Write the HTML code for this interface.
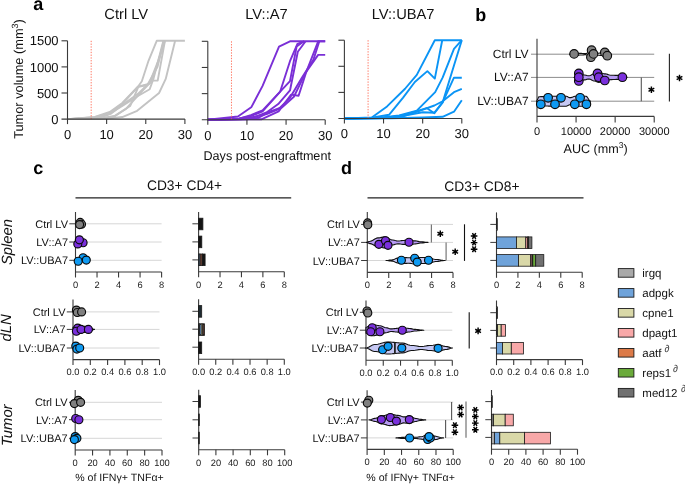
<!DOCTYPE html>
<html><head><meta charset="utf-8"><style>
html,body{margin:0;padding:0;background:#fff;width:685px;height:484px;overflow:hidden}
svg{display:block;will-change:transform}
text{font-family:"Liberation Sans", sans-serif;text-rendering:geometricPrecision}
</style></head><body>
<svg width="685" height="484" viewBox="0 0 685 484">
<rect width="685" height="484" fill="#fff"/>
<text x="33.20" y="9.80" font-size="18" text-anchor="start" font-weight="bold" font-style="normal" fill="#000" >a</text>
<polyline points="67.50,119.10 94.89,117.01 109.76,111.90 122.29,102.92 137.94,86.74 141.85,81.25 148.51,60.79 156.72,40.80 184.90,40.80" fill="none" stroke="#c3c3c3" stroke-width="1.9" stroke-linejoin="round"/>
<polyline points="67.50,119.10 94.89,117.27 110.55,112.84 122.29,103.96 137.94,86.74 149.68,83.55 153.20,75.57 157.70,64.19 164.16,40.80" fill="none" stroke="#c3c3c3" stroke-width="1.9" stroke-linejoin="round"/>
<polyline points="67.50,119.10 98.81,117.53 110.55,113.88 122.29,105.11 137.94,93.84 149.68,82.56 157.90,61.68 164.94,40.80" fill="none" stroke="#c3c3c3" stroke-width="1.9" stroke-linejoin="round"/>
<polyline points="67.50,119.10 98.81,117.79 106.63,115.39 122.29,106.05 137.94,96.03 149.68,89.24 153.59,78.38 163.38,40.80" fill="none" stroke="#c3c3c3" stroke-width="1.9" stroke-linejoin="round"/>
<polyline points="67.50,119.10 102.72,118.06 114.46,115.97 126.20,108.66 137.94,95.56 152.03,80.63 157.70,80.63 164.94,40.80" fill="none" stroke="#c3c3c3" stroke-width="1.9" stroke-linejoin="round"/>
<polyline points="67.50,119.10 102.72,118.32 114.46,116.49 130.11,106.05 138.33,86.94 147.33,84.96 157.51,66.90 163.77,40.80" fill="none" stroke="#c3c3c3" stroke-width="1.9" stroke-linejoin="round"/>
<polyline points="67.50,119.10 106.63,118.58 122.29,117.01 137.16,110.80 159.07,93.00 165.72,78.96 175.12,40.80" fill="none" stroke="#c3c3c3" stroke-width="1.9" stroke-linejoin="round"/>
<line x1="91.18" y1="40.80" x2="91.18" y2="119.10" stroke="#ff6850" stroke-width="0.9" stroke-dasharray="1.35,1.4"/>
<line x1="67.50" y1="40.80" x2="67.50" y2="124.10" stroke="#3a3a3a" stroke-width="1.1" />
<line x1="61.50" y1="119.10" x2="184.90" y2="119.10" stroke="#3a3a3a" stroke-width="1.1" />
<line x1="61.50" y1="93.00" x2="67.50" y2="93.00" stroke="#3a3a3a" stroke-width="1.1" />
<line x1="61.50" y1="66.90" x2="67.50" y2="66.90" stroke="#3a3a3a" stroke-width="1.1" />
<line x1="61.50" y1="40.80" x2="67.50" y2="40.80" stroke="#3a3a3a" stroke-width="1.1" />
<line x1="106.63" y1="119.10" x2="106.63" y2="124.10" stroke="#3a3a3a" stroke-width="1.1" />
<line x1="145.77" y1="119.10" x2="145.77" y2="124.10" stroke="#3a3a3a" stroke-width="1.1" />
<line x1="184.90" y1="119.10" x2="184.90" y2="124.10" stroke="#3a3a3a" stroke-width="1.1" />
<text x="67.50" y="139.00" font-size="13" text-anchor="middle" font-weight="normal" font-style="normal" fill="#111" >0</text>
<text x="106.63" y="139.00" font-size="13" text-anchor="middle" font-weight="normal" font-style="normal" fill="#111" >10</text>
<text x="145.77" y="139.00" font-size="13" text-anchor="middle" font-weight="normal" font-style="normal" fill="#111" >20</text>
<text x="184.90" y="139.00" font-size="13" text-anchor="middle" font-weight="normal" font-style="normal" fill="#111" >30</text>
<text x="58.60" y="123.70" font-size="13" text-anchor="end" font-weight="normal" font-style="normal" fill="#111" >0</text>
<text x="58.60" y="97.60" font-size="13" text-anchor="end" font-weight="normal" font-style="normal" fill="#111" >500</text>
<text x="58.60" y="71.50" font-size="13" text-anchor="end" font-weight="normal" font-style="normal" fill="#111" >1000</text>
<text x="58.60" y="45.40" font-size="13" text-anchor="end" font-weight="normal" font-style="normal" fill="#111" >1500</text>
<text x="126.20" y="18.90" font-size="14.7" text-anchor="middle" font-weight="normal" font-style="normal" fill="#111" >Ctrl LV</text>
<polyline points="207.80,119.80 237.93,116.50 251.24,107.34 262.59,85.89 279.02,46.53 289.98,41.30 325.20,41.30" fill="none" stroke="#7a2fd6" stroke-width="1.9" stroke-linejoin="round"/>
<polyline points="207.80,119.80 239.11,118.75 250.85,115.09 262.59,110.38 280.20,91.54 289.98,81.07 296.63,46.53 304.07,41.30" fill="none" stroke="#7a2fd6" stroke-width="1.9" stroke-linejoin="round"/>
<polyline points="207.80,119.80 239.11,118.49 250.85,116.14 262.59,111.43 280.20,91.54 289.98,61.19 297.42,43.92 304.07,41.30" fill="none" stroke="#7a2fd6" stroke-width="1.9" stroke-linejoin="round"/>
<polyline points="207.80,119.80 243.02,119.02 254.76,117.18 266.50,112.47 278.24,104.10 289.98,90.49 297.81,51.77 305.63,41.30" fill="none" stroke="#7a2fd6" stroke-width="1.9" stroke-linejoin="round"/>
<polyline points="207.80,119.80 246.93,119.28 261.41,119.28 278.63,111.43 291.15,94.68 298.59,95.73 306.02,72.70 318.16,41.30 325.20,41.30" fill="none" stroke="#7a2fd6" stroke-width="1.9" stroke-linejoin="round"/>
<polyline points="207.80,119.80 246.93,119.38 258.67,117.71 270.41,111.43 282.15,107.24 293.89,96.77 305.63,72.70 318.16,54.91 325.20,54.91" fill="none" stroke="#7a2fd6" stroke-width="1.9" stroke-linejoin="round"/>
<polyline points="207.80,119.80 243.02,119.17 254.76,116.66 266.50,114.04 278.24,109.33 289.98,97.82 301.72,77.93 313.46,59.62 319.33,41.30" fill="none" stroke="#7a2fd6" stroke-width="1.9" stroke-linejoin="round"/>
<line x1="231.48" y1="41.30" x2="231.48" y2="119.80" stroke="#ff6850" stroke-width="0.9" stroke-dasharray="1.35,1.4"/>
<line x1="207.80" y1="41.30" x2="207.80" y2="124.80" stroke="#3a3a3a" stroke-width="1.1" />
<line x1="201.80" y1="119.80" x2="325.20" y2="119.80" stroke="#3a3a3a" stroke-width="1.1" />
<line x1="201.80" y1="93.63" x2="207.80" y2="93.63" stroke="#3a3a3a" stroke-width="1.1" />
<line x1="201.80" y1="67.47" x2="207.80" y2="67.47" stroke="#3a3a3a" stroke-width="1.1" />
<line x1="201.80" y1="41.30" x2="207.80" y2="41.30" stroke="#3a3a3a" stroke-width="1.1" />
<line x1="246.93" y1="119.80" x2="246.93" y2="124.80" stroke="#3a3a3a" stroke-width="1.1" />
<line x1="286.07" y1="119.80" x2="286.07" y2="124.80" stroke="#3a3a3a" stroke-width="1.1" />
<line x1="325.20" y1="119.80" x2="325.20" y2="124.80" stroke="#3a3a3a" stroke-width="1.1" />
<text x="207.80" y="139.70" font-size="13" text-anchor="middle" font-weight="normal" font-style="normal" fill="#111" >0</text>
<text x="246.93" y="139.70" font-size="13" text-anchor="middle" font-weight="normal" font-style="normal" fill="#111" >10</text>
<text x="286.07" y="139.70" font-size="13" text-anchor="middle" font-weight="normal" font-style="normal" fill="#111" >20</text>
<text x="325.20" y="139.70" font-size="13" text-anchor="middle" font-weight="normal" font-style="normal" fill="#111" >30</text>
<text x="266.50" y="18.90" font-size="14.7" text-anchor="middle" font-weight="normal" font-style="normal" fill="#111" >LV::A7</text>
<polyline points="344.40,118.50 371.79,117.46 387.06,106.44 405.06,88.75 416.80,74.86 434.80,40.20 461.80,40.20" fill="none" stroke="#0a94f5" stroke-width="1.9" stroke-linejoin="round"/>
<polyline points="344.40,118.50 371.79,117.72 389.01,114.79 403.10,97.62 414.84,81.96 427.36,71.15 434.80,78.57 442.23,40.20" fill="none" stroke="#0a94f5" stroke-width="1.9" stroke-linejoin="round"/>
<polyline points="344.40,118.50 379.62,117.72 399.19,115.37 416.80,110.62 435.19,92.14 442.62,77.68 453.97,48.81 461.80,40.20" fill="none" stroke="#0a94f5" stroke-width="1.9" stroke-linejoin="round"/>
<polyline points="344.40,118.50 383.53,117.98 403.10,115.89 422.67,112.24 434.41,112.71 442.62,102.42 453.97,77.68 461.80,77.68" fill="none" stroke="#0a94f5" stroke-width="1.9" stroke-linejoin="round"/>
<polyline points="344.40,118.50 383.53,117.98 403.10,116.41 418.75,111.19 434.41,105.50 442.62,101.27 453.97,92.14 461.80,88.95" fill="none" stroke="#0a94f5" stroke-width="1.9" stroke-linejoin="round"/>
<polyline points="344.40,118.50 391.36,118.24 422.67,117.46 442.62,116.78 453.97,111.71 461.80,100.33" fill="none" stroke="#0a94f5" stroke-width="1.9" stroke-linejoin="round"/>
<polyline points="344.40,118.50 383.53,117.98 403.10,115.37 426.58,108.06 434.41,113.28 442.62,102.42 453.97,65.57 461.80,40.20" fill="none" stroke="#0a94f5" stroke-width="1.9" stroke-linejoin="round"/>
<line x1="368.08" y1="40.20" x2="368.08" y2="118.50" stroke="#ff6850" stroke-width="0.9" stroke-dasharray="1.35,1.4"/>
<line x1="344.40" y1="40.20" x2="344.40" y2="123.50" stroke="#3a3a3a" stroke-width="1.1" />
<line x1="338.40" y1="118.50" x2="461.80" y2="118.50" stroke="#3a3a3a" stroke-width="1.1" />
<line x1="338.40" y1="92.40" x2="344.40" y2="92.40" stroke="#3a3a3a" stroke-width="1.1" />
<line x1="338.40" y1="66.30" x2="344.40" y2="66.30" stroke="#3a3a3a" stroke-width="1.1" />
<line x1="338.40" y1="40.20" x2="344.40" y2="40.20" stroke="#3a3a3a" stroke-width="1.1" />
<line x1="383.53" y1="118.50" x2="383.53" y2="123.50" stroke="#3a3a3a" stroke-width="1.1" />
<line x1="422.67" y1="118.50" x2="422.67" y2="123.50" stroke="#3a3a3a" stroke-width="1.1" />
<line x1="461.80" y1="118.50" x2="461.80" y2="123.50" stroke="#3a3a3a" stroke-width="1.1" />
<text x="344.40" y="138.40" font-size="13" text-anchor="middle" font-weight="normal" font-style="normal" fill="#111" >0</text>
<text x="383.53" y="138.40" font-size="13" text-anchor="middle" font-weight="normal" font-style="normal" fill="#111" >10</text>
<text x="422.67" y="138.40" font-size="13" text-anchor="middle" font-weight="normal" font-style="normal" fill="#111" >20</text>
<text x="461.80" y="138.40" font-size="13" text-anchor="middle" font-weight="normal" font-style="normal" fill="#111" >30</text>
<text x="403.10" y="18.90" font-size="14.7" text-anchor="middle" font-weight="normal" font-style="normal" fill="#111" >LV::UBA7</text>
<text x="267.20" y="159.60" font-size="12.6" text-anchor="middle" font-weight="normal" font-style="normal" fill="#111" >Days post-engraftment</text>
<text x="22.60" y="79.00" font-size="12.8" text-anchor="middle" font-weight="normal" font-style="normal" fill="#111" transform="rotate(-90 22.60 79.00)" >Tumor volume (mm<tspan dy="-5" font-size="9">3</tspan><tspan dy="5">)</tspan></text>
<text x="475.30" y="20.60" font-size="18" text-anchor="start" font-weight="bold" font-style="normal" fill="#000" >b</text>
<line x1="531.00" y1="54.20" x2="654.21" y2="54.20" stroke="#8c8c8c" stroke-width="1" />
<line x1="531.00" y1="77.40" x2="654.21" y2="77.40" stroke="#8c8c8c" stroke-width="1" />
<line x1="531.00" y1="101.20" x2="654.21" y2="101.20" stroke="#8c8c8c" stroke-width="1" />
<line x1="537.00" y1="38.80" x2="537.00" y2="122.40" stroke="#3a3a3a" stroke-width="1.1" />
<line x1="537.00" y1="116.40" x2="654.21" y2="116.40" stroke="#3a3a3a" stroke-width="1.1" />
<line x1="576.07" y1="116.40" x2="576.07" y2="122.40" stroke="#3a3a3a" stroke-width="1.1" />
<line x1="615.14" y1="116.40" x2="615.14" y2="122.40" stroke="#3a3a3a" stroke-width="1.1" />
<line x1="654.21" y1="116.40" x2="654.21" y2="122.40" stroke="#3a3a3a" stroke-width="1.1" />
<text x="537.00" y="134.80" font-size="11" text-anchor="middle" font-weight="normal" font-style="normal" fill="#111" >0</text>
<text x="576.07" y="134.80" font-size="11" text-anchor="middle" font-weight="normal" font-style="normal" fill="#111" >10000</text>
<text x="615.14" y="134.80" font-size="11" text-anchor="middle" font-weight="normal" font-style="normal" fill="#111" >20000</text>
<text x="654.21" y="134.80" font-size="11" text-anchor="middle" font-weight="normal" font-style="normal" fill="#111" >30000</text>
<text x="528.60" y="58.20" font-size="12" text-anchor="end" font-weight="normal" font-style="normal" fill="#111" >Ctrl LV</text>
<text x="528.60" y="81.40" font-size="12" text-anchor="end" font-weight="normal" font-style="normal" fill="#111" >LV::A7</text>
<text x="528.60" y="105.20" font-size="12" text-anchor="end" font-weight="normal" font-style="normal" fill="#111" >LV::UBA7</text>
<text x="595.60" y="153.00" font-size="12.6" text-anchor="middle" font-weight="normal" font-style="normal" fill="#111" >AUC (mm<tspan dy="-5" font-size="8.5">3</tspan><tspan dy="5">)</tspan></text>
<line x1="641.30" y1="77.40" x2="641.30" y2="101.20" stroke="#555" stroke-width="1.1" />
<line x1="669.40" y1="53.70" x2="669.40" y2="101.40" stroke="#222" stroke-width="1.1" />
<path d="M569.50,54.20 L570.35,53.99 L571.19,53.42 L572.04,52.70 L572.89,52.06 L573.73,51.72 L574.58,51.74 L575.43,51.93 L576.28,52.24 L577.12,52.60 L577.97,52.96 L578.82,53.24 L579.66,53.39 L580.51,53.40 L581.36,53.42 L582.20,53.46 L583.05,53.50 L583.90,53.55 L584.74,53.58 L585.59,53.60 L586.44,53.54 L587.29,53.07 L588.13,52.29 L588.98,51.40 L589.83,50.64 L590.67,50.24 L591.52,50.24 L592.37,50.47 L593.21,50.88 L594.06,51.41 L594.91,51.97 L595.76,52.50 L596.60,52.91 L597.45,53.15 L598.30,53.20 L599.14,53.14 L599.99,53.05 L600.84,53.00 L601.68,52.92 L602.53,52.61 L603.38,52.17 L604.22,51.70 L605.07,51.35 L605.92,51.20 L606.77,51.37 L607.61,51.91 L608.46,52.66 L609.31,53.43 L610.15,53.99 L611.00,54.20 L611.00,54.20 L610.15,54.41 L609.31,54.97 L608.46,55.74 L607.61,56.49 L606.77,57.03 L605.92,57.20 L605.07,57.05 L604.22,56.70 L603.38,56.23 L602.53,55.79 L601.68,55.48 L600.84,55.40 L599.99,55.35 L599.14,55.26 L598.30,55.20 L597.45,55.25 L596.60,55.49 L595.76,55.90 L594.91,56.43 L594.06,56.99 L593.21,57.52 L592.37,57.93 L591.52,58.16 L590.67,58.16 L589.83,57.76 L588.98,57.00 L588.13,56.11 L587.29,55.33 L586.44,54.86 L585.59,54.80 L584.74,54.82 L583.90,54.85 L583.05,54.90 L582.20,54.94 L581.36,54.98 L580.51,55.00 L579.66,55.01 L578.82,55.16 L577.97,55.44 L577.12,55.80 L576.28,56.16 L575.43,56.47 L574.58,56.66 L573.73,56.68 L572.89,56.34 L572.04,55.70 L571.19,54.98 L570.35,54.41 L569.50,54.20 Z" fill="#ffffff" stroke="#111" stroke-width="1.1" stroke-linejoin="round"/>
<circle cx="574.10" cy="53.90" r="4.3" fill="#808080" stroke="#0a0a0a" stroke-width="1.15"/>
<circle cx="591.60" cy="50.20" r="4.3" fill="#808080" stroke="#0a0a0a" stroke-width="1.15"/>
<circle cx="590.90" cy="57.20" r="4.3" fill="#808080" stroke="#0a0a0a" stroke-width="1.15"/>
<circle cx="593.50" cy="53.90" r="4.3" fill="#808080" stroke="#0a0a0a" stroke-width="1.15"/>
<circle cx="604.80" cy="52.40" r="4.3" fill="#808080" stroke="#0a0a0a" stroke-width="1.15"/>
<circle cx="607.30" cy="55.70" r="4.3" fill="#808080" stroke="#0a0a0a" stroke-width="1.15"/>
<path d="M574.00,77.40 L575.08,76.74 L576.16,75.07 L577.24,73.21 L578.33,72.03 L579.41,72.00 L580.49,72.62 L581.57,73.56 L582.65,74.43 L583.73,74.88 L584.82,74.96 L585.90,75.18 L586.98,75.48 L588.06,75.72 L589.14,75.80 L590.22,75.53 L591.31,74.97 L592.39,74.35 L593.47,73.95 L594.55,73.86 L595.63,73.54 L596.71,73.05 L597.80,72.60 L598.88,72.40 L599.96,72.49 L601.04,72.79 L602.12,73.20 L603.20,73.59 L604.29,73.85 L605.37,73.91 L606.45,74.08 L607.53,74.39 L608.61,74.75 L609.69,75.05 L610.78,75.20 L611.86,75.21 L612.94,75.25 L614.02,75.30 L615.10,75.35 L616.18,75.39 L617.27,75.40 L618.35,75.37 L619.43,75.30 L620.51,75.24 L621.59,75.20 L622.67,75.30 L623.76,75.80 L624.84,76.53 L625.92,77.16 L627.00,77.40 L627.00,77.40 L625.92,77.64 L624.84,78.27 L623.76,79.00 L622.67,79.50 L621.59,79.60 L620.51,79.56 L619.43,79.50 L618.35,79.43 L617.27,79.40 L616.18,79.41 L615.10,79.45 L614.02,79.50 L612.94,79.55 L611.86,79.59 L610.78,79.60 L609.69,79.75 L608.61,80.05 L607.53,80.41 L606.45,80.72 L605.37,80.89 L604.29,80.95 L603.20,81.21 L602.12,81.60 L601.04,82.01 L599.96,82.31 L598.88,82.40 L597.80,82.20 L596.71,81.75 L595.63,81.26 L594.55,80.94 L593.47,80.85 L592.39,80.45 L591.31,79.83 L590.22,79.27 L589.14,79.00 L588.06,79.08 L586.98,79.32 L585.90,79.62 L584.82,79.84 L583.73,79.92 L582.65,80.37 L581.57,81.24 L580.49,82.18 L579.41,82.80 L578.33,82.77 L577.24,81.59 L576.16,79.73 L575.08,78.06 L574.00,77.40 Z" fill="#b89cf4" stroke="#111" stroke-width="1.1" stroke-linejoin="round"/>
<circle cx="578.80" cy="73.40" r="4.3" fill="#7a30dc" stroke="#0a0a0a" stroke-width="1.15"/>
<circle cx="578.80" cy="81.00" r="4.3" fill="#7a30dc" stroke="#0a0a0a" stroke-width="1.15"/>
<circle cx="578.80" cy="77.20" r="4.3" fill="#7a30dc" stroke="#0a0a0a" stroke-width="1.15"/>
<circle cx="597.50" cy="73.40" r="4.3" fill="#7a30dc" stroke="#0a0a0a" stroke-width="1.15"/>
<circle cx="598.70" cy="77.20" r="4.3" fill="#7a30dc" stroke="#0a0a0a" stroke-width="1.15"/>
<circle cx="604.80" cy="80.50" r="4.3" fill="#7a30dc" stroke="#0a0a0a" stroke-width="1.15"/>
<circle cx="622.40" cy="77.20" r="4.3" fill="#7a30dc" stroke="#0a0a0a" stroke-width="1.15"/>
<path d="M536.50,101.20 L537.60,99.37 L538.70,96.85 L539.81,96.70 L540.91,96.67 L542.01,96.64 L543.11,96.59 L544.21,96.53 L545.32,96.46 L546.42,96.39 L547.52,96.33 L548.62,96.28 L549.72,96.24 L550.83,96.21 L551.93,96.20 L553.03,96.20 L554.13,96.20 L555.23,96.20 L556.34,96.20 L557.44,96.20 L558.54,96.20 L559.64,96.20 L560.74,96.20 L561.85,96.20 L562.95,96.20 L564.05,96.20 L565.15,96.20 L566.26,96.22 L567.36,96.59 L568.46,97.21 L569.56,97.66 L570.66,97.66 L571.77,97.40 L572.87,97.00 L573.97,96.59 L575.07,96.29 L576.17,96.20 L577.28,96.20 L578.38,96.20 L579.48,96.20 L580.58,96.20 L581.68,96.20 L582.79,96.20 L583.89,96.20 L584.99,96.20 L586.09,96.21 L587.19,97.02 L588.30,98.78 L589.40,100.50 L590.50,101.20 L590.50,101.20 L589.40,101.90 L588.30,103.62 L587.19,105.38 L586.09,106.19 L584.99,106.20 L583.89,106.20 L582.79,106.20 L581.68,106.20 L580.58,106.20 L579.48,106.20 L578.38,106.20 L577.28,106.20 L576.17,106.20 L575.07,106.11 L573.97,105.81 L572.87,105.40 L571.77,105.00 L570.66,104.74 L569.56,104.74 L568.46,105.19 L567.36,105.81 L566.26,106.18 L565.15,106.20 L564.05,106.20 L562.95,106.20 L561.85,106.20 L560.74,106.20 L559.64,106.20 L558.54,106.20 L557.44,106.20 L556.34,106.20 L555.23,106.20 L554.13,106.20 L553.03,106.20 L551.93,106.20 L550.83,106.19 L549.72,106.16 L548.62,106.12 L547.52,106.07 L546.42,106.01 L545.32,105.94 L544.21,105.87 L543.11,105.81 L542.01,105.76 L540.91,105.73 L539.81,105.70 L538.70,105.55 L537.60,103.03 L536.50,101.20 Z" fill="#c6c8f4" stroke="#111" stroke-width="1.1" stroke-linejoin="round"/>
<circle cx="548.10" cy="97.80" r="4.3" fill="#0f9af2" stroke="#0a0a0a" stroke-width="1.15"/>
<circle cx="561.00" cy="97.80" r="4.3" fill="#0f9af2" stroke="#0a0a0a" stroke-width="1.15"/>
<circle cx="580.10" cy="97.80" r="4.3" fill="#0f9af2" stroke="#0a0a0a" stroke-width="1.15"/>
<circle cx="540.80" cy="104.30" r="4.3" fill="#0f9af2" stroke="#0a0a0a" stroke-width="1.15"/>
<circle cx="555.00" cy="104.30" r="4.3" fill="#0f9af2" stroke="#0a0a0a" stroke-width="1.15"/>
<circle cx="574.80" cy="104.30" r="4.3" fill="#0f9af2" stroke="#0a0a0a" stroke-width="1.15"/>
<circle cx="586.40" cy="104.30" r="4.3" fill="#0f9af2" stroke="#0a0a0a" stroke-width="1.15"/>
<path d="M651.40,86.40 L651.40,93.00 M648.54,88.05 L654.26,91.35 M654.26,88.05 L648.54,91.35 " stroke="#000" stroke-width="1.45" fill="none"/>
<path d="M679.50,74.70 L679.50,81.30 M676.64,76.35 L682.36,79.65 M682.36,76.35 L676.64,79.65 " stroke="#000" stroke-width="1.45" fill="none"/>
<text x="33.20" y="174.40" font-size="18" text-anchor="start" font-weight="bold" font-style="normal" fill="#000" >c</text>
<text x="341.00" y="174.40" font-size="18" text-anchor="start" font-weight="bold" font-style="normal" fill="#000" >d</text>
<line x1="75.50" y1="197.90" x2="291.20" y2="197.90" stroke="#222" stroke-width="1.2" />
<text x="184.50" y="189.80" font-size="13.8" text-anchor="middle" font-weight="normal" font-style="normal" fill="#111" >CD3+ CD4+</text>
<line x1="367.50" y1="197.90" x2="583.50" y2="197.90" stroke="#222" stroke-width="1.2" />
<text x="481.90" y="191.20" font-size="13.8" text-anchor="middle" font-weight="normal" font-style="normal" fill="#111" >CD3+ CD8+</text>
<text x="11.60" y="242.00" font-size="14.8" text-anchor="middle" font-weight="normal" font-style="italic" fill="#111" transform="rotate(-90 11.60 242.00)" >Spleen</text>
<text x="11.00" y="328.00" font-size="14.8" text-anchor="middle" font-weight="normal" font-style="italic" fill="#111" transform="rotate(-90 11.00 328.00)" >dLN</text>
<text x="11.60" y="425.30" font-size="14.8" text-anchor="middle" font-weight="normal" font-style="italic" fill="#111" transform="rotate(-90 11.60 425.30)" >Tumor</text>
<line x1="75.50" y1="223.80" x2="161.60" y2="223.80" stroke="#d6d6d6" stroke-width="1" />
<line x1="75.50" y1="242.00" x2="161.60" y2="242.00" stroke="#d6d6d6" stroke-width="1" />
<line x1="75.50" y1="260.30" x2="161.60" y2="260.30" stroke="#d6d6d6" stroke-width="1" />
<line x1="69.30" y1="223.80" x2="75.50" y2="223.80" stroke="#3a3a3a" stroke-width="1" />
<line x1="69.30" y1="242.00" x2="75.50" y2="242.00" stroke="#3a3a3a" stroke-width="1" />
<line x1="69.30" y1="260.30" x2="75.50" y2="260.30" stroke="#3a3a3a" stroke-width="1" />
<line x1="75.50" y1="212.00" x2="75.50" y2="277.50" stroke="#3a3a3a" stroke-width="1.1" />
<line x1="75.50" y1="272.00" x2="161.60" y2="272.00" stroke="#3a3a3a" stroke-width="1.1" />
<text x="75.50" y="287.80" font-size="9.3" text-anchor="middle" font-weight="normal" font-style="normal" fill="#1a1a1a" >0</text>
<line x1="97.03" y1="272.00" x2="97.03" y2="277.50" stroke="#3a3a3a" stroke-width="1.1" />
<text x="97.03" y="287.80" font-size="9.3" text-anchor="middle" font-weight="normal" font-style="normal" fill="#1a1a1a" >2</text>
<line x1="118.55" y1="272.00" x2="118.55" y2="277.50" stroke="#3a3a3a" stroke-width="1.1" />
<text x="118.55" y="287.80" font-size="9.3" text-anchor="middle" font-weight="normal" font-style="normal" fill="#1a1a1a" >4</text>
<line x1="140.07" y1="272.00" x2="140.07" y2="277.50" stroke="#3a3a3a" stroke-width="1.1" />
<text x="140.07" y="287.80" font-size="9.3" text-anchor="middle" font-weight="normal" font-style="normal" fill="#1a1a1a" >6</text>
<line x1="161.60" y1="272.00" x2="161.60" y2="277.50" stroke="#3a3a3a" stroke-width="1.1" />
<text x="161.60" y="287.80" font-size="9.3" text-anchor="middle" font-weight="normal" font-style="normal" fill="#1a1a1a" >8</text>
<text x="68.00" y="227.80" font-size="11" text-anchor="end" font-weight="normal" font-style="normal" fill="#111" >Ctrl LV</text>
<text x="68.00" y="246.00" font-size="11" text-anchor="end" font-weight="normal" font-style="normal" fill="#111" >LV::A7</text>
<text x="68.00" y="264.30" font-size="11" text-anchor="end" font-weight="normal" font-style="normal" fill="#111" >LV::UBA7</text>
<line x1="73.00" y1="311.90" x2="159.50" y2="311.90" stroke="#d6d6d6" stroke-width="1" />
<line x1="73.00" y1="329.40" x2="159.50" y2="329.40" stroke="#d6d6d6" stroke-width="1" />
<line x1="73.00" y1="348.00" x2="159.50" y2="348.00" stroke="#d6d6d6" stroke-width="1" />
<line x1="66.80" y1="311.90" x2="73.00" y2="311.90" stroke="#3a3a3a" stroke-width="1" />
<line x1="66.80" y1="329.40" x2="73.00" y2="329.40" stroke="#3a3a3a" stroke-width="1" />
<line x1="66.80" y1="348.00" x2="73.00" y2="348.00" stroke="#3a3a3a" stroke-width="1" />
<line x1="73.00" y1="299.50" x2="73.00" y2="365.10" stroke="#3a3a3a" stroke-width="1.1" />
<line x1="73.00" y1="359.60" x2="159.50" y2="359.60" stroke="#3a3a3a" stroke-width="1.1" />
<text x="73.00" y="375.40" font-size="9.3" text-anchor="middle" font-weight="normal" font-style="normal" fill="#1a1a1a" >0.0</text>
<line x1="90.30" y1="359.60" x2="90.30" y2="365.10" stroke="#3a3a3a" stroke-width="1.1" />
<text x="90.30" y="375.40" font-size="9.3" text-anchor="middle" font-weight="normal" font-style="normal" fill="#1a1a1a" >0.2</text>
<line x1="107.60" y1="359.60" x2="107.60" y2="365.10" stroke="#3a3a3a" stroke-width="1.1" />
<text x="107.60" y="375.40" font-size="9.3" text-anchor="middle" font-weight="normal" font-style="normal" fill="#1a1a1a" >0.4</text>
<line x1="124.90" y1="359.60" x2="124.90" y2="365.10" stroke="#3a3a3a" stroke-width="1.1" />
<text x="124.90" y="375.40" font-size="9.3" text-anchor="middle" font-weight="normal" font-style="normal" fill="#1a1a1a" >0.6</text>
<line x1="142.20" y1="359.60" x2="142.20" y2="365.10" stroke="#3a3a3a" stroke-width="1.1" />
<text x="142.20" y="375.40" font-size="9.3" text-anchor="middle" font-weight="normal" font-style="normal" fill="#1a1a1a" >0.8</text>
<line x1="159.50" y1="359.60" x2="159.50" y2="365.10" stroke="#3a3a3a" stroke-width="1.1" />
<text x="159.50" y="375.40" font-size="9.3" text-anchor="middle" font-weight="normal" font-style="normal" fill="#1a1a1a" >1.0</text>
<text x="65.50" y="315.90" font-size="11" text-anchor="end" font-weight="normal" font-style="normal" fill="#111" >Ctrl LV</text>
<text x="65.50" y="333.40" font-size="11" text-anchor="end" font-weight="normal" font-style="normal" fill="#111" >LV::A7</text>
<text x="65.50" y="352.00" font-size="11" text-anchor="end" font-weight="normal" font-style="normal" fill="#111" >LV::UBA7</text>
<line x1="75.20" y1="402.30" x2="162.00" y2="402.30" stroke="#d6d6d6" stroke-width="1" />
<line x1="75.20" y1="419.70" x2="162.00" y2="419.70" stroke="#d6d6d6" stroke-width="1" />
<line x1="75.20" y1="438.30" x2="162.00" y2="438.30" stroke="#d6d6d6" stroke-width="1" />
<line x1="69.00" y1="402.30" x2="75.20" y2="402.30" stroke="#3a3a3a" stroke-width="1" />
<line x1="69.00" y1="419.70" x2="75.20" y2="419.70" stroke="#3a3a3a" stroke-width="1" />
<line x1="69.00" y1="438.30" x2="75.20" y2="438.30" stroke="#3a3a3a" stroke-width="1" />
<line x1="75.20" y1="390.00" x2="75.20" y2="455.50" stroke="#3a3a3a" stroke-width="1.1" />
<line x1="75.20" y1="450.00" x2="162.00" y2="450.00" stroke="#3a3a3a" stroke-width="1.1" />
<text x="75.20" y="465.80" font-size="9.3" text-anchor="middle" font-weight="normal" font-style="normal" fill="#1a1a1a" >0</text>
<line x1="92.56" y1="450.00" x2="92.56" y2="455.50" stroke="#3a3a3a" stroke-width="1.1" />
<text x="92.56" y="465.80" font-size="9.3" text-anchor="middle" font-weight="normal" font-style="normal" fill="#1a1a1a" >20</text>
<line x1="109.92" y1="450.00" x2="109.92" y2="455.50" stroke="#3a3a3a" stroke-width="1.1" />
<text x="109.92" y="465.80" font-size="9.3" text-anchor="middle" font-weight="normal" font-style="normal" fill="#1a1a1a" >40</text>
<line x1="127.28" y1="450.00" x2="127.28" y2="455.50" stroke="#3a3a3a" stroke-width="1.1" />
<text x="127.28" y="465.80" font-size="9.3" text-anchor="middle" font-weight="normal" font-style="normal" fill="#1a1a1a" >60</text>
<line x1="144.64" y1="450.00" x2="144.64" y2="455.50" stroke="#3a3a3a" stroke-width="1.1" />
<text x="144.64" y="465.80" font-size="9.3" text-anchor="middle" font-weight="normal" font-style="normal" fill="#1a1a1a" >80</text>
<line x1="162.00" y1="450.00" x2="162.00" y2="455.50" stroke="#3a3a3a" stroke-width="1.1" />
<text x="162.00" y="465.80" font-size="9.3" text-anchor="middle" font-weight="normal" font-style="normal" fill="#1a1a1a" >100</text>
<text x="67.70" y="406.30" font-size="11" text-anchor="end" font-weight="normal" font-style="normal" fill="#111" >Ctrl LV</text>
<text x="67.70" y="423.70" font-size="11" text-anchor="end" font-weight="normal" font-style="normal" fill="#111" >LV::A7</text>
<text x="67.70" y="442.30" font-size="11" text-anchor="end" font-weight="normal" font-style="normal" fill="#111" >LV::UBA7</text>
<line x1="192.40" y1="223.80" x2="198.60" y2="223.80" stroke="#3a3a3a" stroke-width="1" />
<line x1="192.40" y1="241.90" x2="198.60" y2="241.90" stroke="#3a3a3a" stroke-width="1" />
<line x1="192.40" y1="259.90" x2="198.60" y2="259.90" stroke="#3a3a3a" stroke-width="1" />
<line x1="198.60" y1="212.00" x2="198.60" y2="277.30" stroke="#3a3a3a" stroke-width="1.1" />
<line x1="198.60" y1="271.80" x2="284.30" y2="271.80" stroke="#3a3a3a" stroke-width="1.1" />
<text x="198.60" y="287.60" font-size="9.3" text-anchor="middle" font-weight="normal" font-style="normal" fill="#1a1a1a" >0</text>
<line x1="220.03" y1="271.80" x2="220.03" y2="277.30" stroke="#3a3a3a" stroke-width="1.1" />
<text x="220.03" y="287.60" font-size="9.3" text-anchor="middle" font-weight="normal" font-style="normal" fill="#1a1a1a" >2</text>
<line x1="241.45" y1="271.80" x2="241.45" y2="277.30" stroke="#3a3a3a" stroke-width="1.1" />
<text x="241.45" y="287.60" font-size="9.3" text-anchor="middle" font-weight="normal" font-style="normal" fill="#1a1a1a" >4</text>
<line x1="262.88" y1="271.80" x2="262.88" y2="277.30" stroke="#3a3a3a" stroke-width="1.1" />
<text x="262.88" y="287.60" font-size="9.3" text-anchor="middle" font-weight="normal" font-style="normal" fill="#1a1a1a" >6</text>
<line x1="284.30" y1="271.80" x2="284.30" y2="277.30" stroke="#3a3a3a" stroke-width="1.1" />
<text x="284.30" y="287.60" font-size="9.3" text-anchor="middle" font-weight="normal" font-style="normal" fill="#1a1a1a" >8</text>
<line x1="192.40" y1="311.30" x2="198.60" y2="311.30" stroke="#3a3a3a" stroke-width="1" />
<line x1="192.40" y1="329.20" x2="198.60" y2="329.20" stroke="#3a3a3a" stroke-width="1" />
<line x1="192.40" y1="347.20" x2="198.60" y2="347.20" stroke="#3a3a3a" stroke-width="1" />
<line x1="198.60" y1="299.30" x2="198.60" y2="364.80" stroke="#3a3a3a" stroke-width="1.1" />
<line x1="198.60" y1="359.30" x2="284.30" y2="359.30" stroke="#3a3a3a" stroke-width="1.1" />
<text x="198.60" y="375.10" font-size="9.3" text-anchor="middle" font-weight="normal" font-style="normal" fill="#1a1a1a" >0.0</text>
<line x1="215.74" y1="359.30" x2="215.74" y2="364.80" stroke="#3a3a3a" stroke-width="1.1" />
<text x="215.74" y="375.10" font-size="9.3" text-anchor="middle" font-weight="normal" font-style="normal" fill="#1a1a1a" >0.2</text>
<line x1="232.88" y1="359.30" x2="232.88" y2="364.80" stroke="#3a3a3a" stroke-width="1.1" />
<text x="232.88" y="375.10" font-size="9.3" text-anchor="middle" font-weight="normal" font-style="normal" fill="#1a1a1a" >0.4</text>
<line x1="250.02" y1="359.30" x2="250.02" y2="364.80" stroke="#3a3a3a" stroke-width="1.1" />
<text x="250.02" y="375.10" font-size="9.3" text-anchor="middle" font-weight="normal" font-style="normal" fill="#1a1a1a" >0.6</text>
<line x1="267.16" y1="359.30" x2="267.16" y2="364.80" stroke="#3a3a3a" stroke-width="1.1" />
<text x="267.16" y="375.10" font-size="9.3" text-anchor="middle" font-weight="normal" font-style="normal" fill="#1a1a1a" >0.8</text>
<line x1="284.30" y1="359.30" x2="284.30" y2="364.80" stroke="#3a3a3a" stroke-width="1.1" />
<text x="284.30" y="375.10" font-size="9.3" text-anchor="middle" font-weight="normal" font-style="normal" fill="#1a1a1a" >1.0</text>
<line x1="192.50" y1="401.50" x2="198.70" y2="401.50" stroke="#3a3a3a" stroke-width="1" />
<line x1="192.50" y1="419.80" x2="198.70" y2="419.80" stroke="#3a3a3a" stroke-width="1" />
<line x1="192.50" y1="438.00" x2="198.70" y2="438.00" stroke="#3a3a3a" stroke-width="1" />
<line x1="198.70" y1="389.70" x2="198.70" y2="455.30" stroke="#3a3a3a" stroke-width="1.1" />
<line x1="198.70" y1="449.80" x2="284.70" y2="449.80" stroke="#3a3a3a" stroke-width="1.1" />
<text x="198.70" y="465.60" font-size="9.3" text-anchor="middle" font-weight="normal" font-style="normal" fill="#1a1a1a" >0</text>
<line x1="215.90" y1="449.80" x2="215.90" y2="455.30" stroke="#3a3a3a" stroke-width="1.1" />
<text x="215.90" y="465.60" font-size="9.3" text-anchor="middle" font-weight="normal" font-style="normal" fill="#1a1a1a" >20</text>
<line x1="233.10" y1="449.80" x2="233.10" y2="455.30" stroke="#3a3a3a" stroke-width="1.1" />
<text x="233.10" y="465.60" font-size="9.3" text-anchor="middle" font-weight="normal" font-style="normal" fill="#1a1a1a" >40</text>
<line x1="250.30" y1="449.80" x2="250.30" y2="455.30" stroke="#3a3a3a" stroke-width="1.1" />
<text x="250.30" y="465.60" font-size="9.3" text-anchor="middle" font-weight="normal" font-style="normal" fill="#1a1a1a" >60</text>
<line x1="267.50" y1="449.80" x2="267.50" y2="455.30" stroke="#3a3a3a" stroke-width="1.1" />
<text x="267.50" y="465.60" font-size="9.3" text-anchor="middle" font-weight="normal" font-style="normal" fill="#1a1a1a" >80</text>
<line x1="284.70" y1="449.80" x2="284.70" y2="455.30" stroke="#3a3a3a" stroke-width="1.1" />
<text x="284.70" y="465.60" font-size="9.3" text-anchor="middle" font-weight="normal" font-style="normal" fill="#1a1a1a" >100</text>
<line x1="367.30" y1="224.40" x2="453.00" y2="224.40" stroke="#d6d6d6" stroke-width="1" />
<line x1="367.30" y1="242.40" x2="453.00" y2="242.40" stroke="#d6d6d6" stroke-width="1" />
<line x1="367.30" y1="260.50" x2="453.00" y2="260.50" stroke="#d6d6d6" stroke-width="1" />
<line x1="361.10" y1="224.40" x2="367.30" y2="224.40" stroke="#3a3a3a" stroke-width="1" />
<line x1="361.10" y1="242.40" x2="367.30" y2="242.40" stroke="#3a3a3a" stroke-width="1" />
<line x1="361.10" y1="260.50" x2="367.30" y2="260.50" stroke="#3a3a3a" stroke-width="1" />
<line x1="367.30" y1="212.00" x2="367.30" y2="277.90" stroke="#3a3a3a" stroke-width="1.1" />
<line x1="367.30" y1="272.40" x2="453.00" y2="272.40" stroke="#3a3a3a" stroke-width="1.1" />
<text x="367.30" y="288.20" font-size="9.3" text-anchor="middle" font-weight="normal" font-style="normal" fill="#1a1a1a" >0</text>
<line x1="388.73" y1="272.40" x2="388.73" y2="277.90" stroke="#3a3a3a" stroke-width="1.1" />
<text x="388.73" y="288.20" font-size="9.3" text-anchor="middle" font-weight="normal" font-style="normal" fill="#1a1a1a" >2</text>
<line x1="410.15" y1="272.40" x2="410.15" y2="277.90" stroke="#3a3a3a" stroke-width="1.1" />
<text x="410.15" y="288.20" font-size="9.3" text-anchor="middle" font-weight="normal" font-style="normal" fill="#1a1a1a" >4</text>
<line x1="431.57" y1="272.40" x2="431.57" y2="277.90" stroke="#3a3a3a" stroke-width="1.1" />
<text x="431.57" y="288.20" font-size="9.3" text-anchor="middle" font-weight="normal" font-style="normal" fill="#1a1a1a" >6</text>
<line x1="453.00" y1="272.40" x2="453.00" y2="277.90" stroke="#3a3a3a" stroke-width="1.1" />
<text x="453.00" y="288.20" font-size="9.3" text-anchor="middle" font-weight="normal" font-style="normal" fill="#1a1a1a" >8</text>
<text x="359.80" y="228.40" font-size="11" text-anchor="end" font-weight="normal" font-style="normal" fill="#111" >Ctrl LV</text>
<text x="359.80" y="246.40" font-size="11" text-anchor="end" font-weight="normal" font-style="normal" fill="#111" >LV::A7</text>
<text x="359.80" y="264.50" font-size="11" text-anchor="end" font-weight="normal" font-style="normal" fill="#111" >LV::UBA7</text>
<line x1="366.00" y1="312.30" x2="452.30" y2="312.30" stroke="#d6d6d6" stroke-width="1" />
<line x1="366.00" y1="330.20" x2="452.30" y2="330.20" stroke="#d6d6d6" stroke-width="1" />
<line x1="366.00" y1="348.00" x2="452.30" y2="348.00" stroke="#d6d6d6" stroke-width="1" />
<line x1="359.80" y1="312.30" x2="366.00" y2="312.30" stroke="#3a3a3a" stroke-width="1" />
<line x1="359.80" y1="330.20" x2="366.00" y2="330.20" stroke="#3a3a3a" stroke-width="1" />
<line x1="359.80" y1="348.00" x2="366.00" y2="348.00" stroke="#3a3a3a" stroke-width="1" />
<line x1="366.00" y1="300.50" x2="366.00" y2="365.70" stroke="#3a3a3a" stroke-width="1.1" />
<line x1="366.00" y1="360.20" x2="452.30" y2="360.20" stroke="#3a3a3a" stroke-width="1.1" />
<text x="366.00" y="376.00" font-size="9.3" text-anchor="middle" font-weight="normal" font-style="normal" fill="#1a1a1a" >0.0</text>
<line x1="383.26" y1="360.20" x2="383.26" y2="365.70" stroke="#3a3a3a" stroke-width="1.1" />
<text x="383.26" y="376.00" font-size="9.3" text-anchor="middle" font-weight="normal" font-style="normal" fill="#1a1a1a" >0.2</text>
<line x1="400.52" y1="360.20" x2="400.52" y2="365.70" stroke="#3a3a3a" stroke-width="1.1" />
<text x="400.52" y="376.00" font-size="9.3" text-anchor="middle" font-weight="normal" font-style="normal" fill="#1a1a1a" >0.4</text>
<line x1="417.78" y1="360.20" x2="417.78" y2="365.70" stroke="#3a3a3a" stroke-width="1.1" />
<text x="417.78" y="376.00" font-size="9.3" text-anchor="middle" font-weight="normal" font-style="normal" fill="#1a1a1a" >0.6</text>
<line x1="435.04" y1="360.20" x2="435.04" y2="365.70" stroke="#3a3a3a" stroke-width="1.1" />
<text x="435.04" y="376.00" font-size="9.3" text-anchor="middle" font-weight="normal" font-style="normal" fill="#1a1a1a" >0.8</text>
<line x1="452.30" y1="360.20" x2="452.30" y2="365.70" stroke="#3a3a3a" stroke-width="1.1" />
<text x="452.30" y="376.00" font-size="9.3" text-anchor="middle" font-weight="normal" font-style="normal" fill="#1a1a1a" >1.0</text>
<text x="358.50" y="316.30" font-size="11" text-anchor="end" font-weight="normal" font-style="normal" fill="#111" >Ctrl LV</text>
<text x="358.50" y="334.20" font-size="11" text-anchor="end" font-weight="normal" font-style="normal" fill="#111" >LV::A7</text>
<text x="358.50" y="352.00" font-size="11" text-anchor="end" font-weight="normal" font-style="normal" fill="#111" >LV::UBA7</text>
<line x1="367.10" y1="402.10" x2="453.20" y2="402.10" stroke="#d6d6d6" stroke-width="1" />
<line x1="367.10" y1="419.90" x2="453.20" y2="419.90" stroke="#d6d6d6" stroke-width="1" />
<line x1="367.10" y1="437.90" x2="453.20" y2="437.90" stroke="#d6d6d6" stroke-width="1" />
<line x1="360.90" y1="402.10" x2="367.10" y2="402.10" stroke="#3a3a3a" stroke-width="1" />
<line x1="360.90" y1="419.90" x2="367.10" y2="419.90" stroke="#3a3a3a" stroke-width="1" />
<line x1="360.90" y1="437.90" x2="367.10" y2="437.90" stroke="#3a3a3a" stroke-width="1" />
<line x1="367.10" y1="390.30" x2="367.10" y2="454.90" stroke="#3a3a3a" stroke-width="1.1" />
<line x1="367.10" y1="449.40" x2="453.20" y2="449.40" stroke="#3a3a3a" stroke-width="1.1" />
<text x="367.10" y="465.20" font-size="9.3" text-anchor="middle" font-weight="normal" font-style="normal" fill="#1a1a1a" >0</text>
<line x1="384.32" y1="449.40" x2="384.32" y2="454.90" stroke="#3a3a3a" stroke-width="1.1" />
<text x="384.32" y="465.20" font-size="9.3" text-anchor="middle" font-weight="normal" font-style="normal" fill="#1a1a1a" >20</text>
<line x1="401.54" y1="449.40" x2="401.54" y2="454.90" stroke="#3a3a3a" stroke-width="1.1" />
<text x="401.54" y="465.20" font-size="9.3" text-anchor="middle" font-weight="normal" font-style="normal" fill="#1a1a1a" >40</text>
<line x1="418.76" y1="449.40" x2="418.76" y2="454.90" stroke="#3a3a3a" stroke-width="1.1" />
<text x="418.76" y="465.20" font-size="9.3" text-anchor="middle" font-weight="normal" font-style="normal" fill="#1a1a1a" >60</text>
<line x1="435.98" y1="449.40" x2="435.98" y2="454.90" stroke="#3a3a3a" stroke-width="1.1" />
<text x="435.98" y="465.20" font-size="9.3" text-anchor="middle" font-weight="normal" font-style="normal" fill="#1a1a1a" >80</text>
<line x1="453.20" y1="449.40" x2="453.20" y2="454.90" stroke="#3a3a3a" stroke-width="1.1" />
<text x="453.20" y="465.20" font-size="9.3" text-anchor="middle" font-weight="normal" font-style="normal" fill="#1a1a1a" >100</text>
<text x="359.60" y="406.10" font-size="11" text-anchor="end" font-weight="normal" font-style="normal" fill="#111" >Ctrl LV</text>
<text x="359.60" y="423.90" font-size="11" text-anchor="end" font-weight="normal" font-style="normal" fill="#111" >LV::A7</text>
<text x="359.60" y="441.90" font-size="11" text-anchor="end" font-weight="normal" font-style="normal" fill="#111" >LV::UBA7</text>
<line x1="490.30" y1="224.40" x2="496.50" y2="224.40" stroke="#3a3a3a" stroke-width="1" />
<line x1="490.30" y1="242.40" x2="496.50" y2="242.40" stroke="#3a3a3a" stroke-width="1" />
<line x1="490.30" y1="260.40" x2="496.50" y2="260.40" stroke="#3a3a3a" stroke-width="1" />
<line x1="496.50" y1="212.40" x2="496.50" y2="277.80" stroke="#3a3a3a" stroke-width="1.1" />
<line x1="496.50" y1="272.30" x2="582.20" y2="272.30" stroke="#3a3a3a" stroke-width="1.1" />
<text x="496.50" y="288.10" font-size="9.3" text-anchor="middle" font-weight="normal" font-style="normal" fill="#1a1a1a" >0</text>
<line x1="517.92" y1="272.30" x2="517.92" y2="277.80" stroke="#3a3a3a" stroke-width="1.1" />
<text x="517.92" y="288.10" font-size="9.3" text-anchor="middle" font-weight="normal" font-style="normal" fill="#1a1a1a" >2</text>
<line x1="539.35" y1="272.30" x2="539.35" y2="277.80" stroke="#3a3a3a" stroke-width="1.1" />
<text x="539.35" y="288.10" font-size="9.3" text-anchor="middle" font-weight="normal" font-style="normal" fill="#1a1a1a" >4</text>
<line x1="560.78" y1="272.30" x2="560.78" y2="277.80" stroke="#3a3a3a" stroke-width="1.1" />
<text x="560.78" y="288.10" font-size="9.3" text-anchor="middle" font-weight="normal" font-style="normal" fill="#1a1a1a" >6</text>
<line x1="582.20" y1="272.30" x2="582.20" y2="277.80" stroke="#3a3a3a" stroke-width="1.1" />
<text x="582.20" y="288.10" font-size="9.3" text-anchor="middle" font-weight="normal" font-style="normal" fill="#1a1a1a" >8</text>
<line x1="490.30" y1="312.70" x2="496.50" y2="312.70" stroke="#3a3a3a" stroke-width="1" />
<line x1="490.30" y1="330.40" x2="496.50" y2="330.40" stroke="#3a3a3a" stroke-width="1" />
<line x1="490.30" y1="348.00" x2="496.50" y2="348.00" stroke="#3a3a3a" stroke-width="1" />
<line x1="496.50" y1="300.50" x2="496.50" y2="365.10" stroke="#3a3a3a" stroke-width="1.1" />
<line x1="496.50" y1="359.60" x2="582.50" y2="359.60" stroke="#3a3a3a" stroke-width="1.1" />
<text x="496.50" y="375.40" font-size="9.3" text-anchor="middle" font-weight="normal" font-style="normal" fill="#1a1a1a" >0.0</text>
<line x1="513.70" y1="359.60" x2="513.70" y2="365.10" stroke="#3a3a3a" stroke-width="1.1" />
<text x="513.70" y="375.40" font-size="9.3" text-anchor="middle" font-weight="normal" font-style="normal" fill="#1a1a1a" >0.2</text>
<line x1="530.90" y1="359.60" x2="530.90" y2="365.10" stroke="#3a3a3a" stroke-width="1.1" />
<text x="530.90" y="375.40" font-size="9.3" text-anchor="middle" font-weight="normal" font-style="normal" fill="#1a1a1a" >0.4</text>
<line x1="548.10" y1="359.60" x2="548.10" y2="365.10" stroke="#3a3a3a" stroke-width="1.1" />
<text x="548.10" y="375.40" font-size="9.3" text-anchor="middle" font-weight="normal" font-style="normal" fill="#1a1a1a" >0.6</text>
<line x1="565.30" y1="359.60" x2="565.30" y2="365.10" stroke="#3a3a3a" stroke-width="1.1" />
<text x="565.30" y="375.40" font-size="9.3" text-anchor="middle" font-weight="normal" font-style="normal" fill="#1a1a1a" >0.8</text>
<line x1="582.50" y1="359.60" x2="582.50" y2="365.10" stroke="#3a3a3a" stroke-width="1.1" />
<text x="582.50" y="375.40" font-size="9.3" text-anchor="middle" font-weight="normal" font-style="normal" fill="#1a1a1a" >1.0</text>
<line x1="485.30" y1="401.60" x2="491.50" y2="401.60" stroke="#3a3a3a" stroke-width="1" />
<line x1="485.30" y1="419.70" x2="491.50" y2="419.70" stroke="#3a3a3a" stroke-width="1" />
<line x1="485.30" y1="437.40" x2="491.50" y2="437.40" stroke="#3a3a3a" stroke-width="1" />
<line x1="491.50" y1="390.00" x2="491.50" y2="454.70" stroke="#3a3a3a" stroke-width="1.1" />
<line x1="491.50" y1="449.20" x2="577.50" y2="449.20" stroke="#3a3a3a" stroke-width="1.1" />
<text x="491.50" y="465.00" font-size="9.3" text-anchor="middle" font-weight="normal" font-style="normal" fill="#1a1a1a" >0</text>
<line x1="508.70" y1="449.20" x2="508.70" y2="454.70" stroke="#3a3a3a" stroke-width="1.1" />
<text x="508.70" y="465.00" font-size="9.3" text-anchor="middle" font-weight="normal" font-style="normal" fill="#1a1a1a" >20</text>
<line x1="525.90" y1="449.20" x2="525.90" y2="454.70" stroke="#3a3a3a" stroke-width="1.1" />
<text x="525.90" y="465.00" font-size="9.3" text-anchor="middle" font-weight="normal" font-style="normal" fill="#1a1a1a" >40</text>
<line x1="543.10" y1="449.20" x2="543.10" y2="454.70" stroke="#3a3a3a" stroke-width="1.1" />
<text x="543.10" y="465.00" font-size="9.3" text-anchor="middle" font-weight="normal" font-style="normal" fill="#1a1a1a" >60</text>
<line x1="560.30" y1="449.20" x2="560.30" y2="454.70" stroke="#3a3a3a" stroke-width="1.1" />
<text x="560.30" y="465.00" font-size="9.3" text-anchor="middle" font-weight="normal" font-style="normal" fill="#1a1a1a" >80</text>
<line x1="577.50" y1="449.20" x2="577.50" y2="454.70" stroke="#3a3a3a" stroke-width="1.1" />
<text x="577.50" y="465.00" font-size="9.3" text-anchor="middle" font-weight="normal" font-style="normal" fill="#1a1a1a" >100</text>
<text x="119.50" y="481.20" font-size="10.6" text-anchor="middle" font-weight="normal" font-style="normal" fill="#111" >% of IFNγ+ TNFα+</text>
<text x="410.60" y="481.20" font-size="10.6" text-anchor="middle" font-weight="normal" font-style="normal" fill="#111" >% of IFNγ+ TNFα+</text>
<circle cx="80.20" cy="222.40" r="4.0" fill="#808080" stroke="#0a0a0a" stroke-width="1.15"/>
<circle cx="81.50" cy="224.20" r="4.0" fill="#808080" stroke="#0a0a0a" stroke-width="1.15"/>
<circle cx="79.60" cy="224.60" r="4.0" fill="#808080" stroke="#0a0a0a" stroke-width="1.15"/>
<circle cx="83.10" cy="242.70" r="4.0" fill="#7a30dc" stroke="#0a0a0a" stroke-width="1.15"/>
<circle cx="77.80" cy="243.90" r="4.0" fill="#7a30dc" stroke="#0a0a0a" stroke-width="1.15"/>
<circle cx="79.40" cy="239.80" r="4.0" fill="#7a30dc" stroke="#0a0a0a" stroke-width="1.15"/>
<circle cx="83.10" cy="257.80" r="4.0" fill="#0f9af2" stroke="#0a0a0a" stroke-width="1.15"/>
<circle cx="78.20" cy="261.20" r="4.0" fill="#0f9af2" stroke="#0a0a0a" stroke-width="1.15"/>
<circle cx="86.30" cy="260.10" r="4.0" fill="#0f9af2" stroke="#0a0a0a" stroke-width="1.15"/>
<circle cx="76.40" cy="310.10" r="4.0" fill="#808080" stroke="#0a0a0a" stroke-width="1.15"/>
<circle cx="77.30" cy="312.50" r="4.0" fill="#808080" stroke="#0a0a0a" stroke-width="1.15"/>
<circle cx="81.60" cy="311.90" r="4.0" fill="#808080" stroke="#0a0a0a" stroke-width="1.15"/>
<path d="M73.00,327.40 L73.44,327.35 L73.88,327.21 L74.32,327.00 L74.76,326.71 L75.19,326.39 L75.63,326.05 L76.07,325.71 L76.51,325.41 L76.95,325.16 L77.39,324.99 L77.83,324.91 L78.27,324.91 L78.70,324.95 L79.14,325.03 L79.58,325.14 L80.02,325.28 L80.46,325.44 L80.90,325.61 L81.34,325.78 L81.78,325.95 L82.21,326.10 L82.65,326.22 L83.09,326.32 L83.53,326.38 L83.97,326.40 L84.41,326.40 L84.85,326.40 L85.29,326.40 L85.72,326.40 L86.16,326.40 L86.60,326.40 L87.04,326.40 L87.48,326.40 L87.92,326.40 L88.36,326.40 L88.80,326.43 L89.23,326.54 L89.67,326.71 L90.11,326.95 L90.55,327.23 L90.99,327.55 L91.43,327.88 L91.87,328.22 L92.31,328.54 L92.74,328.83 L93.18,329.07 L93.62,329.25 L94.06,329.36 L94.50,329.40 L94.50,329.40 L94.06,329.44 L93.62,329.55 L93.18,329.73 L92.74,329.97 L92.31,330.26 L91.87,330.58 L91.43,330.92 L90.99,331.25 L90.55,331.57 L90.11,331.85 L89.67,332.09 L89.23,332.26 L88.80,332.37 L88.36,332.40 L87.92,332.40 L87.48,332.40 L87.04,332.40 L86.60,332.40 L86.16,332.40 L85.72,332.40 L85.29,332.40 L84.85,332.40 L84.41,332.40 L83.97,332.40 L83.53,332.42 L83.09,332.48 L82.65,332.58 L82.21,332.70 L81.78,332.85 L81.34,333.02 L80.90,333.19 L80.46,333.36 L80.02,333.52 L79.58,333.66 L79.14,333.77 L78.70,333.85 L78.27,333.89 L77.83,333.89 L77.39,333.81 L76.95,333.64 L76.51,333.39 L76.07,333.09 L75.63,332.75 L75.19,332.41 L74.76,332.09 L74.32,331.80 L73.88,331.59 L73.44,331.45 L73.00,331.40 Z" fill="#b89cf4" stroke="#111" stroke-width="1.1" stroke-linejoin="round"/>
<circle cx="77.70" cy="328.10" r="4.0" fill="#7a30dc" stroke="#0a0a0a" stroke-width="1.15"/>
<circle cx="76.40" cy="331.20" r="4.0" fill="#7a30dc" stroke="#0a0a0a" stroke-width="1.15"/>
<circle cx="81.00" cy="329.40" r="4.0" fill="#7a30dc" stroke="#0a0a0a" stroke-width="1.15"/>
<circle cx="88.40" cy="329.40" r="4.0" fill="#7a30dc" stroke="#0a0a0a" stroke-width="1.15"/>
<circle cx="75.80" cy="346.10" r="4.0" fill="#0f9af2" stroke="#0a0a0a" stroke-width="1.15"/>
<circle cx="76.90" cy="349.10" r="4.0" fill="#0f9af2" stroke="#0a0a0a" stroke-width="1.15"/>
<circle cx="79.70" cy="348.00" r="4.0" fill="#0f9af2" stroke="#0a0a0a" stroke-width="1.15"/>
<circle cx="78.20" cy="400.30" r="4.0" fill="#808080" stroke="#0a0a0a" stroke-width="1.15"/>
<circle cx="74.40" cy="403.60" r="4.0" fill="#808080" stroke="#0a0a0a" stroke-width="1.15"/>
<circle cx="80.60" cy="402.30" r="4.0" fill="#808080" stroke="#0a0a0a" stroke-width="1.15"/>
<circle cx="75.70" cy="418.50" r="4.0" fill="#7a30dc" stroke="#0a0a0a" stroke-width="1.15"/>
<circle cx="78.90" cy="419.70" r="4.0" fill="#7a30dc" stroke="#0a0a0a" stroke-width="1.15"/>
<circle cx="75.20" cy="436.60" r="4.0" fill="#0f9af2" stroke="#0a0a0a" stroke-width="1.15"/>
<circle cx="76.90" cy="438.30" r="4.0" fill="#0f9af2" stroke="#0a0a0a" stroke-width="1.15"/>
<circle cx="74.40" cy="439.60" r="4.0" fill="#0f9af2" stroke="#0a0a0a" stroke-width="1.15"/>
<path d="M366.50,242.40 L367.76,242.06 L369.01,241.42 L370.27,241.19 L371.52,240.91 L372.78,240.31 L374.03,239.53 L375.29,238.75 L376.54,238.16 L377.80,237.91 L379.05,237.85 L380.31,237.66 L381.56,237.39 L382.82,237.11 L384.07,236.90 L385.33,236.80 L386.58,237.01 L387.84,237.69 L389.09,238.60 L390.35,239.43 L391.60,239.87 L392.86,239.95 L394.11,240.20 L395.37,240.56 L396.62,240.86 L397.88,241.00 L399.13,240.95 L400.39,240.79 L401.64,240.60 L402.90,240.45 L404.15,240.40 L405.41,240.29 L406.66,240.07 L407.92,239.87 L409.17,239.80 L410.43,239.95 L411.68,240.26 L412.94,240.61 L414.19,240.85 L415.45,240.91 L416.70,241.07 L417.96,241.34 L419.21,241.62 L420.47,241.78 L421.72,241.82 L422.98,241.91 L424.23,242.06 L425.49,242.23 L426.74,242.35 L428.00,242.40 L428.00,242.40 L426.74,242.45 L425.49,242.57 L424.23,242.74 L422.98,242.89 L421.72,242.98 L420.47,243.02 L419.21,243.18 L417.96,243.46 L416.70,243.73 L415.45,243.89 L414.19,243.95 L412.94,244.19 L411.68,244.54 L410.43,244.85 L409.17,245.00 L407.92,244.93 L406.66,244.73 L405.41,244.51 L404.15,244.40 L402.90,244.35 L401.64,244.20 L400.39,244.01 L399.13,243.85 L397.88,243.80 L396.62,243.94 L395.37,244.24 L394.11,244.60 L392.86,244.85 L391.60,244.93 L390.35,245.37 L389.09,246.20 L387.84,247.11 L386.58,247.79 L385.33,248.00 L384.07,247.90 L382.82,247.69 L381.56,247.41 L380.31,247.14 L379.05,246.95 L377.80,246.89 L376.54,246.64 L375.29,246.05 L374.03,245.27 L372.78,244.49 L371.52,243.89 L370.27,243.61 L369.01,243.38 L367.76,242.74 L366.50,242.40 Z" fill="#b89cf4" stroke="#111" stroke-width="1.1" stroke-linejoin="round"/>
<circle cx="367.60" cy="222.90" r="4.0" fill="#808080" stroke="#0a0a0a" stroke-width="1.15"/>
<circle cx="367.80" cy="224.70" r="4.0" fill="#808080" stroke="#0a0a0a" stroke-width="1.15"/>
<circle cx="378.90" cy="244.30" r="4.0" fill="#7a30dc" stroke="#0a0a0a" stroke-width="1.15"/>
<circle cx="385.50" cy="240.70" r="4.0" fill="#7a30dc" stroke="#0a0a0a" stroke-width="1.15"/>
<circle cx="388.00" cy="245.30" r="4.0" fill="#7a30dc" stroke="#0a0a0a" stroke-width="1.15"/>
<circle cx="409.00" cy="242.20" r="4.0" fill="#7a30dc" stroke="#0a0a0a" stroke-width="1.15"/>
<path d="M386.00,260.50 L387.21,260.44 L388.42,260.29 L389.63,260.10 L390.84,259.95 L392.05,259.90 L393.26,259.70 L394.47,259.21 L395.68,258.62 L396.89,258.16 L398.10,258.00 L399.31,257.88 L400.52,257.65 L401.73,257.51 L402.94,257.51 L404.15,257.54 L405.36,257.59 L406.57,257.65 L407.78,257.69 L408.99,257.70 L410.20,257.63 L411.41,257.46 L412.62,257.24 L413.83,257.06 L415.04,257.00 L416.26,257.05 L417.47,257.18 L418.68,257.34 L419.89,257.46 L421.10,257.50 L422.31,257.50 L423.52,257.50 L424.73,257.50 L425.94,257.50 L427.15,257.50 L428.36,257.51 L429.57,257.68 L430.78,258.04 L431.99,258.50 L433.20,258.95 L434.41,259.31 L435.62,259.49 L436.83,259.52 L438.04,259.61 L439.25,259.77 L440.46,259.97 L441.67,260.17 L442.88,260.34 L444.09,260.46 L445.30,260.50 L445.30,260.50 L444.09,260.54 L442.88,260.66 L441.67,260.83 L440.46,261.03 L439.25,261.23 L438.04,261.39 L436.83,261.48 L435.62,261.51 L434.41,261.69 L433.20,262.05 L431.99,262.50 L430.78,262.96 L429.57,263.32 L428.36,263.49 L427.15,263.50 L425.94,263.50 L424.73,263.50 L423.52,263.50 L422.31,263.50 L421.10,263.50 L419.89,263.54 L418.68,263.66 L417.47,263.82 L416.26,263.95 L415.04,264.00 L413.83,263.94 L412.62,263.76 L411.41,263.54 L410.20,263.37 L408.99,263.30 L407.78,263.31 L406.57,263.35 L405.36,263.41 L404.15,263.46 L402.94,263.49 L401.73,263.49 L400.52,263.35 L399.31,263.12 L398.10,263.00 L396.89,262.84 L395.68,262.38 L394.47,261.79 L393.26,261.30 L392.05,261.10 L390.84,261.05 L389.63,260.90 L388.42,260.71 L387.21,260.56 L386.00,260.50 Z" fill="#c6c8f4" stroke="#111" stroke-width="1.1" stroke-linejoin="round"/>
<circle cx="401.40" cy="260.20" r="4.0" fill="#0f9af2" stroke="#0a0a0a" stroke-width="1.15"/>
<circle cx="414.70" cy="258.20" r="4.0" fill="#0f9af2" stroke="#0a0a0a" stroke-width="1.15"/>
<circle cx="417.20" cy="262.10" r="4.0" fill="#0f9af2" stroke="#0a0a0a" stroke-width="1.15"/>
<circle cx="428.50" cy="260.20" r="4.0" fill="#0f9af2" stroke="#0a0a0a" stroke-width="1.15"/>
<path d="M366.00,327.20 L367.18,326.96 L368.36,326.33 L369.54,325.54 L370.72,324.88 L371.90,324.60 L373.08,324.65 L374.26,324.80 L375.44,325.03 L376.62,325.28 L377.80,325.51 L378.98,325.66 L380.16,325.70 L381.33,325.93 L382.51,326.45 L383.69,327.06 L384.87,327.53 L386.05,327.70 L387.23,327.87 L388.41,328.27 L389.59,328.68 L390.77,328.89 L391.95,328.87 L393.13,328.76 L394.31,328.61 L395.49,328.47 L396.67,328.40 L397.85,328.32 L399.03,327.98 L400.21,327.54 L401.39,327.24 L402.57,327.22 L403.75,327.38 L404.93,327.65 L406.11,327.96 L407.29,328.23 L408.47,328.38 L409.64,328.43 L410.82,328.61 L412.00,328.90 L413.18,329.19 L414.36,329.37 L415.54,329.41 L416.72,329.47 L417.90,329.60 L419.08,329.75 L420.26,329.92 L421.44,330.07 L422.62,330.17 L423.80,330.20 L423.80,330.20 L422.62,330.23 L421.44,330.33 L420.26,330.48 L419.08,330.65 L417.90,330.80 L416.72,330.93 L415.54,330.99 L414.36,331.03 L413.18,331.21 L412.00,331.50 L410.82,331.79 L409.64,331.97 L408.47,332.02 L407.29,332.17 L406.11,332.44 L404.93,332.75 L403.75,333.02 L402.57,333.18 L401.39,333.16 L400.21,332.86 L399.03,332.42 L397.85,332.08 L396.67,332.00 L395.49,331.93 L394.31,331.79 L393.13,331.64 L391.95,331.53 L390.77,331.51 L389.59,331.72 L388.41,332.13 L387.23,332.53 L386.05,332.70 L384.87,332.87 L383.69,333.34 L382.51,333.95 L381.33,334.47 L380.16,334.70 L378.98,334.74 L377.80,334.89 L376.62,335.12 L375.44,335.37 L374.26,335.60 L373.08,335.75 L371.90,335.80 L370.72,335.52 L369.54,334.86 L368.36,334.07 L367.18,333.44 L366.00,333.20 Z" fill="#b89cf4" stroke="#111" stroke-width="1.1" stroke-linejoin="round"/>
<circle cx="367.00" cy="311.00" r="4.0" fill="#808080" stroke="#0a0a0a" stroke-width="1.15"/>
<circle cx="367.80" cy="313.00" r="4.0" fill="#808080" stroke="#0a0a0a" stroke-width="1.15"/>
<circle cx="372.20" cy="327.70" r="4.0" fill="#7a30dc" stroke="#0a0a0a" stroke-width="1.15"/>
<circle cx="370.70" cy="331.70" r="4.0" fill="#7a30dc" stroke="#0a0a0a" stroke-width="1.15"/>
<circle cx="379.90" cy="331.70" r="4.0" fill="#7a30dc" stroke="#0a0a0a" stroke-width="1.15"/>
<circle cx="402.30" cy="330.20" r="4.0" fill="#7a30dc" stroke="#0a0a0a" stroke-width="1.15"/>
<path d="M365.40,348.00 L367.18,347.71 L368.96,346.94 L370.73,345.95 L372.51,345.05 L374.29,344.55 L376.07,344.46 L377.84,344.22 L379.62,343.80 L381.40,343.28 L383.18,342.76 L384.95,342.32 L386.73,342.06 L388.51,342.00 L390.29,342.06 L392.06,342.19 L393.84,342.37 L395.62,342.57 L397.40,342.76 L399.17,342.90 L400.95,342.99 L402.73,343.03 L404.51,343.37 L406.28,343.97 L408.06,344.66 L409.84,345.22 L411.62,345.49 L413.39,345.56 L415.17,345.78 L416.95,346.08 L418.73,346.35 L420.50,346.49 L422.28,346.45 L424.06,346.24 L425.84,345.94 L427.61,345.66 L429.39,345.51 L431.17,345.46 L432.95,345.29 L434.72,345.05 L436.50,344.86 L438.28,344.81 L440.06,345.06 L441.83,345.59 L443.61,346.15 L445.39,346.48 L447.17,346.62 L448.94,347.14 L450.72,347.74 L452.50,348.00 L452.50,348.00 L450.72,348.26 L448.94,348.86 L447.17,349.38 L445.39,349.52 L443.61,349.85 L441.83,350.41 L440.06,350.94 L438.28,351.19 L436.50,351.14 L434.72,350.95 L432.95,350.71 L431.17,350.54 L429.39,350.49 L427.61,350.34 L425.84,350.06 L424.06,349.76 L422.28,349.55 L420.50,349.51 L418.73,349.65 L416.95,349.92 L415.17,350.22 L413.39,350.44 L411.62,350.51 L409.84,350.78 L408.06,351.34 L406.28,352.03 L404.51,352.63 L402.73,352.97 L400.95,353.01 L399.17,353.10 L397.40,353.24 L395.62,353.43 L393.84,353.63 L392.06,353.81 L390.29,353.94 L388.51,354.00 L386.73,353.94 L384.95,353.68 L383.18,353.24 L381.40,352.72 L379.62,352.20 L377.84,351.78 L376.07,351.54 L374.29,351.45 L372.51,350.95 L370.73,350.05 L368.96,349.06 L367.18,348.29 L365.40,348.00 Z" fill="#c6c8f4" stroke="#111" stroke-width="1.1" stroke-linejoin="round"/>
<line x1="394.90" y1="342.50" x2="394.90" y2="354.00" stroke="#222" stroke-width="1.8" />
<circle cx="382.60" cy="349.70" r="4.0" fill="#0f9af2" stroke="#0a0a0a" stroke-width="1.15"/>
<circle cx="388.10" cy="346.30" r="4.0" fill="#0f9af2" stroke="#0a0a0a" stroke-width="1.15"/>
<circle cx="401.80" cy="348.10" r="4.0" fill="#0f9af2" stroke="#0a0a0a" stroke-width="1.15"/>
<circle cx="438.10" cy="348.30" r="4.0" fill="#0f9af2" stroke="#0a0a0a" stroke-width="1.15"/>
<path d="M369.00,419.90 L370.16,419.77 L371.31,419.41 L372.47,418.97 L373.63,418.59 L374.79,418.40 L375.94,418.29 L377.10,417.88 L378.26,417.29 L379.41,416.65 L380.57,416.15 L381.73,415.91 L382.89,415.85 L384.04,415.64 L385.20,415.31 L386.36,414.93 L387.51,414.57 L388.67,414.31 L389.83,414.20 L390.99,414.24 L392.14,414.40 L393.30,414.64 L394.46,414.91 L395.61,415.16 L396.77,415.33 L397.93,415.40 L399.09,415.52 L400.24,415.86 L401.40,416.31 L402.56,416.70 L403.71,416.89 L404.87,416.86 L406.03,416.72 L407.19,416.55 L408.34,416.42 L409.50,416.43 L410.66,416.66 L411.81,417.10 L412.97,417.61 L414.13,418.07 L415.29,418.35 L416.44,418.43 L417.60,418.71 L418.76,419.10 L419.91,419.30 L421.07,419.35 L422.23,419.50 L423.39,419.69 L424.54,419.84 L425.70,419.90 L425.70,419.90 L424.54,419.96 L423.39,420.11 L422.23,420.30 L421.07,420.45 L419.91,420.50 L418.76,420.70 L417.60,421.09 L416.44,421.37 L415.29,421.45 L414.13,421.73 L412.97,422.19 L411.81,422.70 L410.66,423.14 L409.50,423.37 L408.34,423.38 L407.19,423.25 L406.03,423.08 L404.87,422.94 L403.71,422.91 L402.56,423.10 L401.40,423.49 L400.24,423.94 L399.09,424.28 L397.93,424.40 L396.77,424.47 L395.61,424.64 L394.46,424.89 L393.30,425.16 L392.14,425.40 L390.99,425.56 L389.83,425.60 L388.67,425.49 L387.51,425.23 L386.36,424.87 L385.20,424.49 L384.04,424.16 L382.89,423.95 L381.73,423.89 L380.57,423.65 L379.41,423.15 L378.26,422.51 L377.10,421.92 L375.94,421.51 L374.79,421.40 L373.63,421.21 L372.47,420.83 L371.31,420.39 L370.16,420.03 L369.00,419.90 Z" fill="#b89cf4" stroke="#111" stroke-width="1.1" stroke-linejoin="round"/>
<circle cx="368.80" cy="400.20" r="4.0" fill="#808080" stroke="#0a0a0a" stroke-width="1.15"/>
<circle cx="367.30" cy="403.10" r="4.0" fill="#808080" stroke="#0a0a0a" stroke-width="1.15"/>
<circle cx="381.40" cy="419.60" r="4.0" fill="#7a30dc" stroke="#0a0a0a" stroke-width="1.15"/>
<circle cx="390.30" cy="417.50" r="4.0" fill="#7a30dc" stroke="#0a0a0a" stroke-width="1.15"/>
<circle cx="396.40" cy="421.10" r="4.0" fill="#7a30dc" stroke="#0a0a0a" stroke-width="1.15"/>
<circle cx="409.30" cy="419.60" r="4.0" fill="#7a30dc" stroke="#0a0a0a" stroke-width="1.15"/>
<path d="M396.00,437.90 L396.97,437.87 L397.94,437.78 L398.91,437.66 L399.88,437.54 L400.85,437.44 L401.82,437.40 L402.79,437.39 L403.76,437.34 L404.72,437.26 L405.69,437.16 L406.66,437.06 L407.63,436.98 L408.60,436.92 L409.57,436.90 L410.54,436.92 L411.51,436.98 L412.48,437.07 L413.45,437.16 L414.42,437.24 L415.39,437.29 L416.36,437.29 L417.33,437.20 L418.30,437.04 L419.27,436.86 L420.23,436.73 L421.20,436.70 L422.17,436.54 L423.14,436.21 L424.11,435.75 L425.08,435.25 L426.05,434.81 L427.02,434.51 L427.99,434.40 L428.96,434.50 L429.93,434.80 L430.90,435.20 L431.87,435.62 L432.84,435.95 L433.81,436.10 L434.78,436.13 L435.74,436.25 L436.71,436.44 L437.68,436.69 L438.65,436.97 L439.62,437.26 L440.59,437.51 L441.56,437.72 L442.53,437.85 L443.50,437.90 L443.50,437.90 L442.53,437.95 L441.56,438.08 L440.59,438.29 L439.62,438.54 L438.65,438.83 L437.68,439.11 L436.71,439.36 L435.74,439.55 L434.78,439.67 L433.81,439.70 L432.84,439.85 L431.87,440.18 L430.90,440.60 L429.93,441.00 L428.96,441.30 L427.99,441.40 L427.02,441.29 L426.05,440.99 L425.08,440.55 L424.11,440.05 L423.14,439.59 L422.17,439.26 L421.20,439.10 L420.23,439.07 L419.27,438.94 L418.30,438.76 L417.33,438.60 L416.36,438.51 L415.39,438.51 L414.42,438.56 L413.45,438.64 L412.48,438.73 L411.51,438.82 L410.54,438.88 L409.57,438.90 L408.60,438.88 L407.63,438.82 L406.66,438.74 L405.69,438.64 L404.72,438.54 L403.76,438.46 L402.79,438.41 L401.82,438.40 L400.85,438.36 L399.88,438.26 L398.91,438.14 L397.94,438.02 L396.97,437.93 L396.00,437.90 Z" fill="#c6c8f4" stroke="#111" stroke-width="1.1" stroke-linejoin="round"/>
<circle cx="409.60" cy="438.00" r="4.0" fill="#0f9af2" stroke="#0a0a0a" stroke-width="1.15"/>
<circle cx="427.70" cy="439.50" r="4.0" fill="#0f9af2" stroke="#0a0a0a" stroke-width="1.15"/>
<circle cx="430.30" cy="438.00" r="4.0" fill="#0f9af2" stroke="#0a0a0a" stroke-width="1.15"/>
<circle cx="429.00" cy="436.60" r="4.0" fill="#0f9af2" stroke="#0a0a0a" stroke-width="1.15"/>
<line x1="431.40" y1="224.40" x2="431.40" y2="242.40" stroke="#777" stroke-width="1.2" />
<line x1="446.10" y1="242.40" x2="446.10" y2="260.50" stroke="#777" stroke-width="1.2" />
<path d="M440.30,230.50 L440.30,237.10 M437.44,232.15 L443.16,235.45 M443.16,232.15 L437.44,235.45 " stroke="#000" stroke-width="1.45" fill="none"/>
<path d="M455.20,248.50 L455.20,255.10 M452.34,250.15 L458.06,253.45 M458.06,250.15 L452.34,253.45 " stroke="#000" stroke-width="1.45" fill="none"/>
<line x1="464.50" y1="224.30" x2="464.50" y2="260.90" stroke="#111" stroke-width="1.1" />
<path d="M470.80,236.00 L477.40,236.00 M472.45,233.14 L475.75,238.86 M475.75,233.14 L472.45,238.86 " stroke="#000" stroke-width="1.45" fill="none"/>
<path d="M470.80,242.60 L477.40,242.60 M472.45,239.74 L475.75,245.46 M475.75,239.74 L472.45,245.46 " stroke="#000" stroke-width="1.45" fill="none"/>
<path d="M470.80,249.20 L477.40,249.20 M472.45,246.34 L475.75,252.06 M475.75,246.34 L472.45,252.06 " stroke="#000" stroke-width="1.45" fill="none"/>
<line x1="469.20" y1="312.20" x2="469.20" y2="348.40" stroke="#111" stroke-width="1.1" />
<path d="M478.10,327.60 L478.10,334.20 M475.24,329.25 L480.96,332.55 M480.96,329.25 L475.24,332.55 " stroke="#000" stroke-width="1.45" fill="none"/>
<line x1="451.60" y1="402.00" x2="451.60" y2="419.90" stroke="#555" stroke-width="1.1" />
<line x1="445.60" y1="419.90" x2="445.60" y2="437.90" stroke="#555" stroke-width="1.1" />
<path d="M457.30,407.50 L463.90,407.50 M458.95,404.64 L462.25,410.36 M462.25,404.64 L458.95,410.36 " stroke="#000" stroke-width="1.45" fill="none"/>
<path d="M457.30,414.50 L463.90,414.50 M458.95,411.64 L462.25,417.36 M462.25,411.64 L458.95,417.36 " stroke="#000" stroke-width="1.45" fill="none"/>
<path d="M451.60,425.20 L458.20,425.20 M453.25,422.34 L456.55,428.06 M456.55,422.34 L453.25,428.06 " stroke="#000" stroke-width="1.45" fill="none"/>
<path d="M451.60,432.20 L458.20,432.20 M453.25,429.34 L456.55,435.06 M456.55,429.34 L453.25,435.06 " stroke="#000" stroke-width="1.45" fill="none"/>
<line x1="466.00" y1="401.50" x2="466.00" y2="437.80" stroke="#666" stroke-width="1.1" />
<path d="M472.00,409.90 L478.60,409.90 M473.65,407.04 L476.95,412.76 M476.95,407.04 L473.65,412.76 " stroke="#000" stroke-width="1.45" fill="none"/>
<path d="M472.00,416.50 L478.60,416.50 M473.65,413.64 L476.95,419.36 M476.95,413.64 L473.65,419.36 " stroke="#000" stroke-width="1.45" fill="none"/>
<path d="M472.00,423.10 L478.60,423.10 M473.65,420.24 L476.95,425.96 M476.95,420.24 L473.65,425.96 " stroke="#000" stroke-width="1.45" fill="none"/>
<path d="M472.00,429.70 L478.60,429.70 M473.65,426.84 L476.95,432.56 M476.95,426.84 L473.65,432.56 " stroke="#000" stroke-width="1.45" fill="none"/>
<rect x="198.60" y="218.20" width="4.30" height="11.60" fill="#141414" stroke="#1a1a1a" stroke-width="0.8"/>
<rect x="198.60" y="236.10" width="3.20" height="11.60" fill="#141414" stroke="#1a1a1a" stroke-width="0.8"/>
<rect x="198.60" y="254.00" width="1.30" height="11.60" fill="#6fa3da" stroke="#1a1a1a" stroke-width="0.8"/>
<rect x="199.90" y="254.00" width="2.60" height="11.60" fill="#5a3a30" stroke="#1a1a1a" stroke-width="0.8"/>
<rect x="202.50" y="254.00" width="2.60" height="11.60" fill="#141414" stroke="#1a1a1a" stroke-width="0.8"/>
<rect x="198.60" y="305.60" width="3.10" height="11.60" fill="#1e2a30" stroke="#1a1a1a" stroke-width="0.8"/>
<rect x="198.60" y="323.80" width="1.00" height="11.60" fill="#707070" stroke="#1a1a1a" stroke-width="0.8"/>
<rect x="199.60" y="323.80" width="1.60" height="11.60" fill="#6fa3da" stroke="#1a1a1a" stroke-width="0.8"/>
<rect x="201.20" y="323.80" width="1.60" height="11.60" fill="#d9d8a8" stroke="#1a1a1a" stroke-width="0.8"/>
<rect x="202.80" y="323.80" width="1.70" height="11.60" fill="#5a3a30" stroke="#1a1a1a" stroke-width="0.8"/>
<rect x="198.60" y="342.00" width="3.10" height="11.60" fill="#141414" stroke="#1a1a1a" stroke-width="0.8"/>
<rect x="198.70" y="395.70" width="1.80" height="11.60" fill="#141414" stroke="#1a1a1a" stroke-width="0.8"/>
<rect x="198.70" y="414.00" width="0.60" height="11.60" fill="#141414" stroke="#1a1a1a" stroke-width="0.8"/>
<rect x="198.70" y="432.20" width="0.60" height="11.60" fill="#141414" stroke="#1a1a1a" stroke-width="0.8"/>
<rect x="496.50" y="218.60" width="0.80" height="11.60" fill="#707070" stroke="#1a1a1a" stroke-width="0.8"/>
<rect x="496.50" y="236.90" width="20.00" height="11.60" fill="#6fa3da" stroke="#1a1a1a" stroke-width="0.8"/>
<rect x="516.50" y="236.90" width="9.30" height="11.60" fill="#d9d8a8" stroke="#1a1a1a" stroke-width="0.8"/>
<rect x="525.80" y="236.90" width="1.60" height="11.60" fill="#f8a8a8" stroke="#1a1a1a" stroke-width="0.8"/>
<rect x="527.40" y="236.90" width="1.20" height="11.60" fill="#dc7a48" stroke="#1a1a1a" stroke-width="0.8"/>
<rect x="528.60" y="236.90" width="3.30" height="11.60" fill="#707070" stroke="#1a1a1a" stroke-width="0.8"/>
<rect x="496.50" y="254.60" width="22.10" height="11.60" fill="#6fa3da" stroke="#1a1a1a" stroke-width="0.8"/>
<rect x="518.60" y="254.60" width="11.80" height="11.60" fill="#d9d8a8" stroke="#1a1a1a" stroke-width="0.8"/>
<rect x="530.40" y="254.60" width="1.60" height="11.60" fill="#f8a8a8" stroke="#1a1a1a" stroke-width="0.8"/>
<rect x="532.00" y="254.60" width="0.80" height="11.60" fill="#dc7a48" stroke="#1a1a1a" stroke-width="0.8"/>
<rect x="532.80" y="254.60" width="2.90" height="11.60" fill="#6aaa3a" stroke="#1a1a1a" stroke-width="0.8"/>
<rect x="535.70" y="254.60" width="8.10" height="11.60" fill="#707070" stroke="#1a1a1a" stroke-width="0.8"/>
<rect x="496.50" y="306.90" width="0.90" height="11.60" fill="#707070" stroke="#1a1a1a" stroke-width="0.8"/>
<rect x="496.50" y="324.60" width="1.00" height="11.60" fill="#707070" stroke="#1a1a1a" stroke-width="0.8"/>
<rect x="497.50" y="324.60" width="3.70" height="11.60" fill="#d9d8a8" stroke="#1a1a1a" stroke-width="0.8"/>
<rect x="501.20" y="324.60" width="4.20" height="11.60" fill="#f8a8a8" stroke="#1a1a1a" stroke-width="0.8"/>
<rect x="496.50" y="342.40" width="6.10" height="11.60" fill="#6fa3da" stroke="#1a1a1a" stroke-width="0.8"/>
<rect x="502.60" y="342.40" width="8.70" height="11.60" fill="#d9d8a8" stroke="#1a1a1a" stroke-width="0.8"/>
<rect x="511.30" y="342.40" width="12.10" height="11.60" fill="#f8a8a8" stroke="#1a1a1a" stroke-width="0.8"/>
<rect x="491.50" y="395.80" width="0.80" height="11.60" fill="#707070" stroke="#1a1a1a" stroke-width="0.8"/>
<rect x="491.50" y="414.20" width="2.00" height="11.60" fill="#707070" stroke="#1a1a1a" stroke-width="0.8"/>
<rect x="493.50" y="414.20" width="11.70" height="11.60" fill="#d9d8a8" stroke="#1a1a1a" stroke-width="0.8"/>
<rect x="505.20" y="414.20" width="8.10" height="11.60" fill="#f8a8a8" stroke="#1a1a1a" stroke-width="0.8"/>
<rect x="491.50" y="432.30" width="2.90" height="11.60" fill="#a9a9a9" stroke="#1a1a1a" stroke-width="0.8"/>
<rect x="494.40" y="432.30" width="5.40" height="11.60" fill="#6fa3da" stroke="#1a1a1a" stroke-width="0.8"/>
<rect x="499.80" y="432.30" width="24.70" height="11.60" fill="#d9d8a8" stroke="#1a1a1a" stroke-width="0.8"/>
<rect x="524.50" y="432.30" width="26.00" height="11.60" fill="#f8a8a8" stroke="#1a1a1a" stroke-width="0.8"/>
<rect x="618.30" y="268.60" width="15.60" height="8.60" fill="#a9a9a9" stroke="#1a1a1a" stroke-width="0.9"/>
<text x="642.30" y="276.90" font-size="11.5" text-anchor="start" font-weight="normal" font-style="normal" fill="#111" >irgq</text>
<rect x="618.30" y="288.57" width="15.60" height="8.60" fill="#6fa3da" stroke="#1a1a1a" stroke-width="0.9"/>
<text x="642.30" y="296.87" font-size="11.5" text-anchor="start" font-weight="normal" font-style="normal" fill="#111" >adpgk</text>
<rect x="618.30" y="308.54" width="15.60" height="8.60" fill="#d9d8a8" stroke="#1a1a1a" stroke-width="0.9"/>
<text x="642.30" y="316.84" font-size="11.5" text-anchor="start" font-weight="normal" font-style="normal" fill="#111" >cpne1</text>
<rect x="618.30" y="328.51" width="15.60" height="8.60" fill="#f8a8a8" stroke="#1a1a1a" stroke-width="0.9"/>
<text x="642.30" y="336.81" font-size="11.5" text-anchor="start" font-weight="normal" font-style="normal" fill="#111" >dpagt1</text>
<rect x="618.30" y="348.48" width="15.60" height="8.60" fill="#dc7a48" stroke="#1a1a1a" stroke-width="0.9"/>
<text x="642.30" y="356.78" font-size="11.5" text-anchor="start" font-weight="normal" font-style="normal" fill="#111" >aatf<tspan dx="3" dy="-4.5" font-size="10" fill="#444">∂</tspan></text>
<rect x="618.30" y="368.45" width="15.60" height="8.60" fill="#6aaa3a" stroke="#1a1a1a" stroke-width="0.9"/>
<text x="642.30" y="376.75" font-size="11.5" text-anchor="start" font-weight="normal" font-style="normal" fill="#111" >reps1<tspan dx="2" dy="-4.5" font-size="10" fill="#444">∂</tspan></text>
<rect x="618.30" y="388.42" width="15.60" height="8.60" fill="#707070" stroke="#1a1a1a" stroke-width="0.9"/>
<text x="642.30" y="396.72" font-size="11.5" text-anchor="start" font-weight="normal" font-style="normal" fill="#111" >med12<tspan dx="3.5" dy="-4.5" font-size="10" fill="#444">∂</tspan></text>
</svg></body></html>
